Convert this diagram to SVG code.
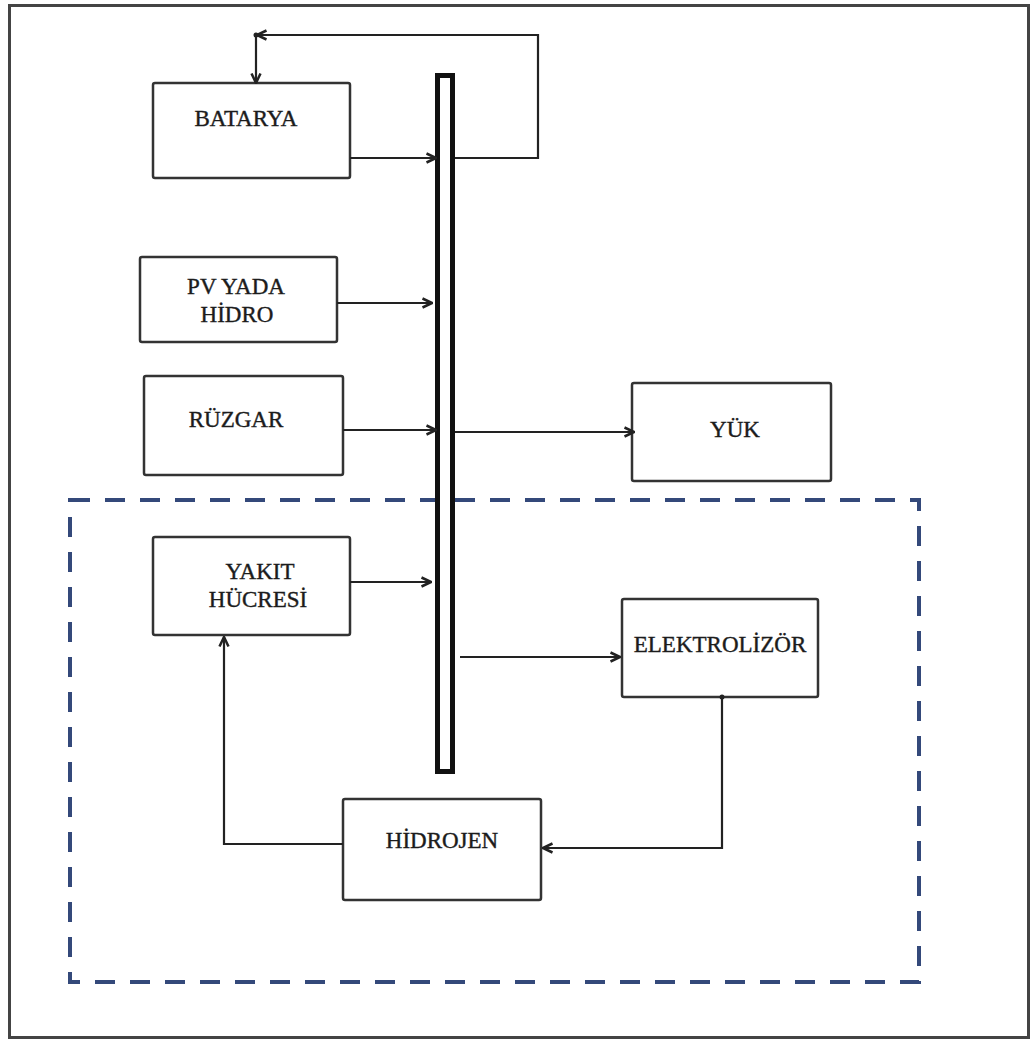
<svg xmlns="http://www.w3.org/2000/svg" width="1031" height="1041" viewBox="0 0 1031 1041">
  <style>
    .frame { fill: none; stroke: #444; stroke-width: 3; }
    .box { fill: #fff; stroke: #333; stroke-width: 2.5; }
    .bus { fill: #fff; stroke: #111; stroke-width: 5; }
    .zone { fill: none; stroke: #34497a; stroke-width: 4; stroke-dasharray: 20 15; }
    .wire { fill: none; stroke: #222; stroke-width: 2.2; }
    .lbl { font-family: "Liberation Serif", "Times New Roman", serif; font-size: 23px; fill: #1c1c1c; stroke: #1c1c1c; stroke-width: 0.4; text-anchor: middle; }
  </style>
  <defs>
    <marker id="arr" viewBox="0 0 12 12" refX="11" refY="6" markerWidth="12" markerHeight="12" markerUnits="userSpaceOnUse" orient="auto">
      <path d="M1.5,1.5 L11,6 L1.5,10.5" fill="none" stroke="#222" stroke-width="2.5" stroke-linejoin="miter"/>
    </marker>
  </defs>

  <rect width="1031" height="1041" fill="#fff"/>
  <rect class="frame" x="9.5" y="5.5" width="1019" height="1032"/>

  <!-- hydrogen storage subsystem boundary -->
  <rect id="hydrogen-zone" class="zone" x="70" y="500" width="849" height="482"/>

  <!-- DC bus bar -->
  <g id="bus">
    <rect class="bus" x="437.5" y="75.5" width="15" height="696"/>
  </g>

  <g id="batarya">
    <rect class="box" x="153" y="83" width="197" height="95" rx="2"/>
    <text class="lbl" x="246" y="126">BATARYA</text>
  </g>
  <g id="pv-hidro">
    <rect class="box" x="140" y="257" width="197" height="85" rx="2"/>
    <text class="lbl" x="236" y="294">PV YADA</text>
    <text class="lbl" x="237" y="322">HİDRO</text>
  </g>
  <g id="ruzgar">
    <rect class="box" x="144" y="376" width="199" height="99" rx="2"/>
    <text class="lbl" x="236" y="427">RÜZGAR</text>
  </g>
  <g id="yuk">
    <rect class="box" x="632" y="383" width="199" height="98" rx="2"/>
    <text class="lbl" x="735" y="437">YÜK</text>
  </g>
  <g id="yakit-hucresi">
    <rect class="box" x="153" y="537" width="197" height="98" rx="2"/>
    <text class="lbl" x="260" y="579">YAKIT</text>
    <text class="lbl" x="258" y="607">HÜCRESİ</text>
  </g>
  <g id="elektrolizor">
    <rect class="box" x="622" y="599" width="196" height="98" rx="2"/>
    <text class="lbl" x="720" y="652">ELEKTROLİZÖR</text>
  </g>
  <g id="hidrojen">
    <rect class="box" x="343" y="799" width="198" height="101" rx="2"/>
    <text class="lbl" x="442" y="848">HİDROJEN</text>
  </g>

  <g id="connectors">
    <path class="wire" d="M350,158 H436" marker-end="url(#arr)"/>
    <path class="wire" d="M455,158 H538 V35 H257" marker-end="url(#arr)"/>
    <path class="wire" d="M256,35 V83" marker-end="url(#arr)"/>
    <circle cx="256" cy="35" r="2.5" fill="#222"/>
    <path class="wire" d="M337,303 H432" marker-end="url(#arr)"/>
    <path class="wire" d="M343,430 H436" marker-end="url(#arr)"/>
    <path class="wire" d="M455,432 H634" marker-end="url(#arr)"/>
    <path class="wire" d="M350,582 H431" marker-end="url(#arr)"/>
    <path class="wire" d="M460,657 H620" marker-end="url(#arr)"/>
    <path class="wire" d="M722,697 V848 H543" marker-end="url(#arr)"/>
    <circle cx="722" cy="697" r="2.5" fill="#222"/>
    <path class="wire" d="M343,844 H224 V637" marker-end="url(#arr)"/>
  </g>
</svg>
